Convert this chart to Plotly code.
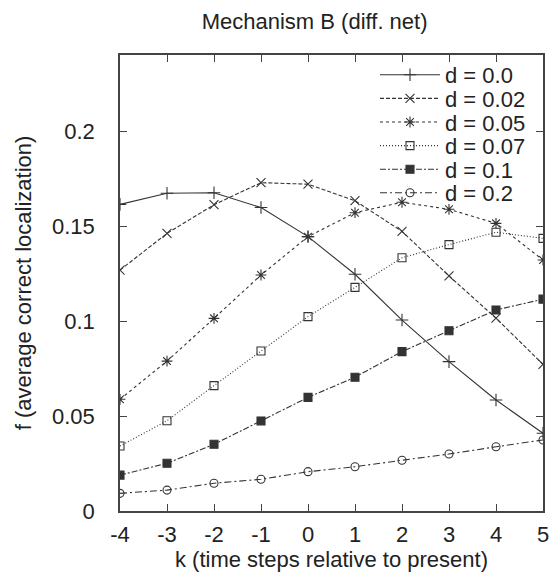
import plotly.graph_objects as go

k = [-4, -3, -2, -1, 0, 1, 2, 3, 4, 5]
k_ticklabels = ["-4", "-3", "-2", "-1", "0", "1", "2", "3", "4", "5"]
labels = ["d = 0.0", "d = 0.02", "d = 0.05", "d = 0.07", "d = 0.1", "d = 0.2"]
f_d000 = [0.1614, 0.1672, 0.1675, 0.1597, 0.1444, 0.1246, 0.1005, 0.0786, 0.0584, 0.0409]
f_d002 = [0.1268, 0.1461, 0.1612, 0.1728, 0.1720, 0.1633, 0.1472, 0.1237, 0.1015, 0.0772]
f_d005 = [0.0588, 0.0789, 0.1014, 0.1242, 0.1444, 0.1570, 0.1625, 0.1588, 0.1514, 0.1321]
f_d007 = [0.0342, 0.0475, 0.0660, 0.0842, 0.1023, 0.1177, 0.1333, 0.1402, 0.1467, 0.1435]
f_d010 = [0.0189, 0.0251, 0.0351, 0.0474, 0.0598, 0.0704, 0.0839, 0.0949, 0.1058, 0.1115]
f_d020 = [0.0093, 0.0110, 0.0146, 0.0167, 0.0207, 0.0233, 0.0267, 0.0300, 0.0338, 0.0374]
series = [f_d000, f_d002, f_d005, f_d007, f_d010, f_d020]

y_ticks = [0, 0.05, 0.1, 0.15, 0.2]
y_ticklabels = ["0", "0.05", "0.1", "0.15", "0.2"]

dashes = ["solid", "4px,2px", "3px,3px", "1px,2px", "6px,2px,2px,2px", "7px,3px,2px,3px"]
symbols = ["cross-thin-open", "x-thin-open", "asterisk-open", "square-open", "square", "circle-open"]
sizes = [9, 9, 9, 8, 8, 8]
col = "#333333"
font_family = "Liberation Sans, Arial, sans-serif"
txt_col = "#222222"

W, H = 551, 584
ML, MR, MT, MB = 120, 8, 55, 73
plot_h = H - MT - MB
plot_w = W - ML - MR
legend_top = 75      # centre of first legend row, px from top
legend_step = 23.6   # px between legend rows
legend_left = 375    # px from left

fig = go.Figure()
legend_layouts = {}
for i, (lab, vals, dsh, sym, sz) in enumerate(zip(labels, series, dashes, symbols, sizes)):
    lname = "legend" if i == 0 else f"legend{i + 1}"
    fig.add_trace(go.Scatter(
        x=k, y=vals, name=lab, mode="lines+markers", legend=lname,
        line=dict(color=col, width=1.1, dash=dsh),
        marker=dict(symbol=sym, size=sz, color=col, line=dict(color=col, width=1.1)),
    ))
    yc = legend_top + i * legend_step
    legend_layouts[lname] = dict(
        x=(legend_left - ML) / plot_w, y=(H - MB - yc) / plot_h,
        xanchor="left", yanchor="middle",
        bgcolor="rgba(0,0,0,0)", borderwidth=0,
        font=dict(size=22, family=font_family, color=txt_col),
        itemwidth=60,
    )

fig.update_layout(
    width=W, height=H,
    margin=dict(l=ML, r=MR, t=MT, b=MB, autoexpand=False),
    paper_bgcolor="white", plot_bgcolor="white",
    font=dict(family=font_family, size=22, color=txt_col),
    title=dict(text="Mechanism B (diff. net)", x=0.571, xanchor="center",
               y=0.964, yanchor="middle", font=dict(size=22, family=font_family, color=txt_col)),
    showlegend=True,
    xaxis=dict(range=[-4, 5], tickvals=k, ticktext=k_ticklabels, ticks="inside", ticklen=7,
               tickwidth=1, tickcolor="#444", mirror="ticks", showline=True, linecolor="#444",
               linewidth=1.5, showgrid=False, zeroline=False, automargin=False,
               ticklabelstandoff=3,
               title=dict(text="k (time steps relative to present)", standoff=3,
                          font=dict(size=22, family=font_family)),
               tickfont=dict(size=22, family=font_family)),
    yaxis=dict(range=[0, 0.24], tickvals=y_ticks, ticktext=y_ticklabels, ticks="inside",
               ticklen=7, tickwidth=1, tickcolor="#444", mirror="ticks", showline=True,
               linecolor="#444", linewidth=1.5, showgrid=False, zeroline=False,
               automargin=False, ticklabelstandoff=19,
               title=dict(text="f (average correct localization)", standoff=14,
                          font=dict(size=22, family=font_family)),
               tickfont=dict(size=22, family=font_family)),
    **legend_layouts,
)

# remove the browser's default 8px body margin so the figure fills the window exactly
fig.write_html("out.html", config={"displayModeBar": False},
               post_script="document.body.style.margin='0';document.body.style.overflow='hidden';")
